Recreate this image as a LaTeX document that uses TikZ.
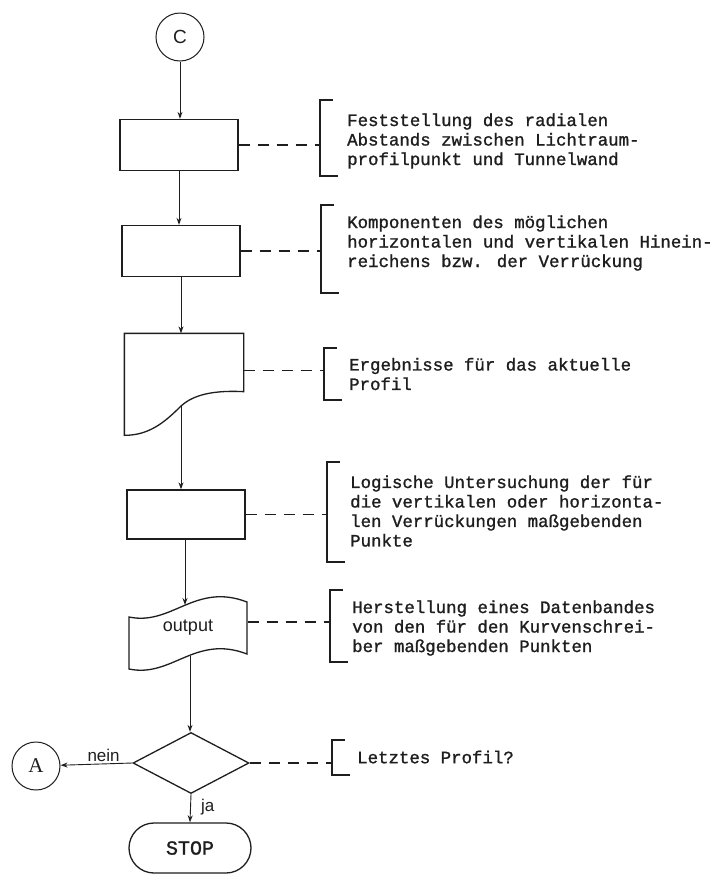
\documentclass[tikz,border=0pt]{standalone}
\usepackage{fontspec}
\setmainfont{Liberation Serif}
\setsansfont{Liberation Sans}
\setmonofont{Liberation Mono}
\newfontfamily\typew[FakeBold=1.2]{Liberation Mono}
\usepackage{tikz}
\usetikzlibrary{positioning,shapes.geometric,shapes.misc,arrows.meta,calc}
\definecolor{ink}    {HTML}{1E1E1E}
\definecolor{paper}  {HTML}{FFFFFF}
\tikzset{
  >={Stealth[open,length=7pt,width=5pt]},
  every node/.style={text=ink},
  % --- nodes
  proc/.style  = {draw=ink, line width=1.3pt, minimum width=118pt, minimum height=51pt,
                  inner sep=0pt},
  conn/.style  = {circle, draw=ink, line width=1pt, minimum size=48pt, inner sep=0pt,
                  font=\sffamily\fontsize{19}{21}\selectfont},
  dec/.style   = {diamond, draw=ink, line width=1.3pt, aspect=1.9, minimum width=116pt,
                  minimum height=61pt, inner sep=0pt},
  term/.style  = {rounded rectangle, draw=ink, line width=1.3pt, minimum width=122pt,
                  minimum height=50pt, inner sep=0pt, font=\typew\fontsize{20}{22}\selectfont},
  ann/.style   = {anchor=west, align=left, inner sep=0pt,
                  font=\typew\fontsize{17.4}{19.5}\selectfont},
  lbl/.style   = {font=\sffamily\fontsize{17}{19}\selectfont, inner sep=2pt},
  outl/.style  = {draw=ink, line width=1.3pt},
  % --- edges
  flow/.style  = {->, draw=ink, line width=0.9pt},
  lnk/.style   = {draw=ink, line width=1.1pt, dash pattern=on 11pt off 8pt},
  brkline/.style= {draw=ink, line width=1.5pt},
}
\begin{document}
\begin{tikzpicture}[x=1pt,y=-1pt]
  \useasboundingbox[fill=paper] (0,0) rectangle (718,876);

  % bracket: name, x, top, bottom
  \newcommand{\annbrk}[4]{%
    \coordinate (#1) at (#2,{(#3+#4)/2});
    \draw[brkline] ($(#2,#3)+(13,0)$) -| (#2,#4) -- ++(18,0);}

  % flow column
  \node[conn] (c) at (180,37) {C};
  \node[proc] (p1) at (179,145) {};
  \node[proc] (p2) at (181,251) {};
  \node[proc, draw=none, minimum height=57pt] (doc) at (184,362.5) {};
  \node[proc, minimum height=49pt] (p3) at (186,514.5) {};
  \node[proc, draw=none, minimum height=52pt, font=\sffamily\fontsize{18}{20}\selectfont]
    (tape) at (188,628) {output};
  \node[dec] (q) at (191,763) {};
  \node[conn, font=\rmfamily\fontsize{21}{23}\selectfont] (a) at (36,766) {A};
  \node[term] (stop) at (190,848) {STOP};

  % document and tape outlines
  \draw[outl] (doc.north west) -- (doc.north east) -- (doc.south east)
    .. controls ++(-38,-2) and ++(9,-8) .. (181,406) coordinate (docout)
    .. controls ++(-16,16) and ++(25,0) .. ($(doc.north west)+(0,102)$) -- cycle;
  \draw[outl] (129,617) .. controls (172,626) and (195,582) .. (247,602)
    -- (247,654) .. controls (195,634) and (172,678) .. (129,669) -- cycle;
  \coordinate (tapein) at (185,605);
  \coordinate (tapeout) at (190,656);

  % connectors
  \draw[flow] (c.south) -- (c.south |- p1.north);
  \draw[flow] (p1.south) -- (p1.south |- p2.north);
  \draw[flow] (p2.south) -- (p2.south |- doc.north);
  \draw[flow] (docout) -- (docout |- p3.north);
  \draw[flow] (tapein |- p3.south) -- (tapein);
  \draw[flow] (tapeout) -- (tapeout |- q.north);
  \draw[flow] (q.west) -- (a) node[lbl, above, pos=0.4] {nein};
  \draw[flow] (q.south) -- (stop.north) node[lbl, right, pos=0.45, xshift=8pt] {ja};

  % annotations
  \annbrk{b1}{320}{100}{176}
  \annbrk{b2}{321}{205}{293}
  \annbrk{b3}{324}{348}{400}
  \annbrk{b4}{327}{462}{562}
  \annbrk{b5}{330}{590}{662}
  \annbrk{b6}{332}{740}{775}

  \draw[lnk] (p1.east) -- (p1.east -| b1);
  \draw[lnk] (p2.east) -- (p2.east -| b2);
  \draw[lnk] ($(doc.east)+(0,8)$) -- ($(doc.east -| b3)+(0,8)$);
  \draw[lnk] (p3.east) -- (p3.east -| b4);
  \draw[lnk] ($(tape.east)+(0,-6)$) -- ($(tape.east -| b5)+(0,-6)$);
  \draw[lnk] (q.east) -- (q.east -| b6);

  \node[ann] (t1) at (347,141) {Feststellung des radialen\\Abstands zwischen Lichtraum-\\profilpunkt und Tunnelwand};
  \node[ann] (t2) at (347,243) {Komponenten des möglichen\\horizontalen und vertikalen Hinein-\\reichens bzw. der Verrückung};
  \node[ann] (t3) at (349,374) {Ergebnisse für das aktuelle\\Profil};
  \node[ann] (t4) at (350,511) {Logische Untersuchung der für\\die vertikalen oder horizonta-\\len Verrückungen maßgebenden\\Punkte};
  \node[ann] (t5) at (352,628) {Herstellung eines Datenbandes\\von den für den Kurvenschrei-\\ber maßgebenden Punkten};
  \node[ann] (t6) at (357,757) {Letztes Profil?};
\end{tikzpicture}
\end{document}
